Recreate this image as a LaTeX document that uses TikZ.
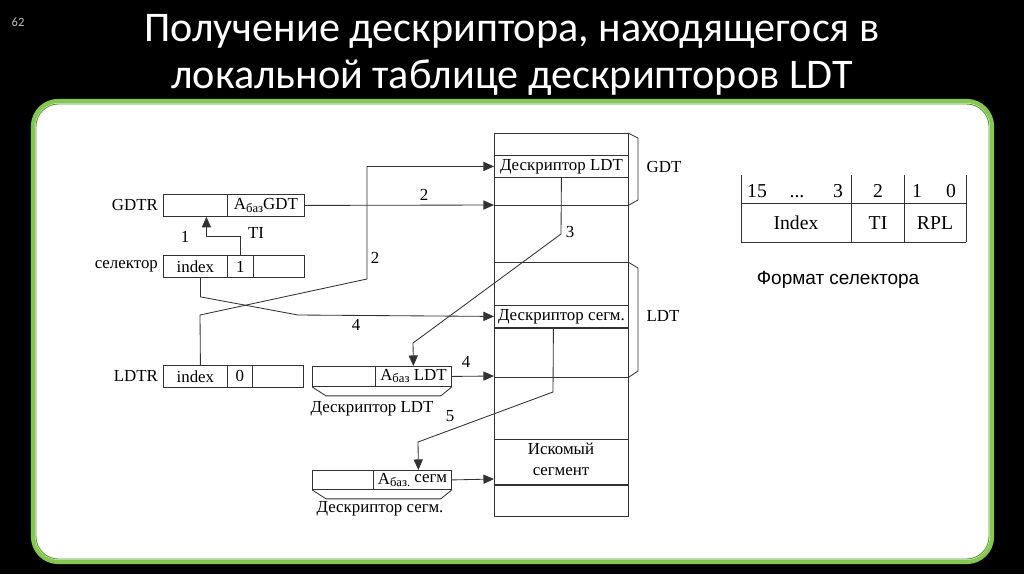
\documentclass[tikz,border=0pt]{standalone}
\usepackage{fontspec}
\setmainfont{Liberation Serif}
\newfontfamily\titlefont{Carlito}
\newfontfamily\capfont{Liberation Sans}
\usetikzlibrary{arrows.meta,calc}
\definecolor{panelgreen}{RGB}{132,200,82}
\definecolor{paneledge}{RGB}{84,150,44}
\definecolor{ink}{RGB}{50,50,50}
\newcommand{\Abase}[1]{A\raisebox{-1.5pt}{\fontsize{9}{9}\selectfont баз}#1}
\begin{document}
\begin{tikzpicture}[x=0.025cm, y=-0.025cm, line width=0.6pt,
  every node/.style={font=\fontsize{12}{14}\selectfont, text=black},
  cell/.style={draw=ink, inner sep=0pt, minimum height=22*0.025cm, anchor=north west},
  arr/.style={draw=ink, -{Triangle[length=7.5pt, width=6.5pt]}},
  lbl/.style={inner sep=1pt},
  fmtxt/.style={font=\fontsize{14}{16}\selectfont, anchor=base}]
  % slide
  \fill[black] (0,0) rectangle (1024,574);
  \useasboundingbox (0,0) rectangle (1024,574);
  \node[text=white!75!black, font=\titlefont\fontsize{9}{10}\selectfont] (pgno) at (18,22) {62};
  \node[text=white, font=\titlefont\fontsize{30}{34}\selectfont, align=center] (title) at (512,55)
    {Получение дескриптора, находящегося в\\локальной таблице дескрипторов LDT};
  \fill[white, rounded corners=18] (33,101) rectangle (992,562);
  \draw[panelgreen, line width=3pt, rounded corners=18] (33,101) rectangle (992,562);
  \draw[paneledge, line width=0.6pt, rounded corners=16] (36,104) rectangle (989,559);

  % memory column
  \draw[ink] (494,133) rectangle (628,516);
  \foreach \y in {205,262,377,439} {
      \draw[ink] (494,\y) -- (628,\y);
    }
  \node[cell, minimum width=134*0.025cm] (dLDT) at (494,155) {Дескриптор LDT};
  \node[cell, minimum width=134*0.025cm] (dSeg) at (494,305) {Дескриптор сегм.};
  \draw[ink, line width=1.2pt] (dSeg.south west) -- (dSeg.south east);
  \node[align=center, font=\fontsize{12}{15}\selectfont] (seg) at (561,459) {Искомый\\сегмент};
  \draw[ink, line width=1.2pt] (494,485) -- (628,485);
  \coordinate (gdtEnd) at (494,205);
  \coordinate (ldtEnd) at (494,376);
  \coordinate (segEnd) at (494,479);

  % table brackets
  \draw[ink] (628,133) -- (638,138) -- (638,200) -- (629,205);
  \draw[ink] (628,262) -- (638,268) -- (638,371) -- (629,377);
  \node (gdtLbl) at (664,167) {GDT};
  \node (ldtLbl) at (663,316) {LDT};

  % GDTR
  \node[cell, minimum width=64*0.025cm] (gdtrL) at (163,194) {};
  \node[cell, minimum width=77*0.025cm] (gdtrB) at (227,194) {\Abase{GDT}};
  \node[left] at (gdtrL.west) {GDTR};

  % selector
  \node[cell, minimum width=64*0.025cm] (selIdx) at (163,255) {index};
  \node[cell, minimum width=26*0.025cm] (selTI) at (227,255) {1};
  \node[cell, minimum width=51*0.025cm] (selRpl) at (253,255) {};
  \node[left] at (selIdx.west) {селектор};

  % LDTR
  \node[cell, minimum width=64*0.025cm] (ldtrIdx) at (163,365) {index};
  \node[cell, minimum width=25*0.025cm] (ldtrTI) at (227,365) {0};
  \node[cell, minimum width=51*0.025cm] (ldtrRpl) at (252,365) {};
  \node[left] at (ldtrIdx.west) {LDTR};

  % LDT descriptor
  \node[cell, minimum width=63*0.025cm, minimum height=20*0.025cm] (dlA) at (312,366) {};
  \node[cell, minimum width=76*0.025cm, minimum height=20*0.025cm] (dlB) at (375,366) {\Abase{ LDT}};
  \draw[ink] (dlA.south west) -- ++(14,9) -- ($(dlB.south east)+(-11,9)$) -- (dlB.south east);
  \node (dlLbl) at (372,409) {Дескриптор LDT};

  % segment descriptor
  \node[cell, minimum width=61*0.025cm, minimum height=19*0.025cm] (dsA) at (312,470) {};
  \node[cell, minimum width=78*0.025cm, minimum height=19*0.025cm] (dsB) at (373,470)
    {A\raisebox{-1.5pt}{\fontsize{9}{9}\selectfont баз.} \raisebox{1pt}{сегм}};
  \draw[ink] (dsA.south west) -- ++(14,9) -- ($(dsB.south east)+(-11,9)$) -- (dsB.south east);
  \node (dsLbl) at (380,509) {Дескриптор сегм.};

  % 1: TI bit selects the table
  \draw[arr] (selTI.north) -- ++(0,-19) -| ($(gdtrL.south)+(11,0)$);
  \node[lbl] at (185,237) {1};
  \node[lbl] at (256,233) {TI};

  % 2: GDT base and index of LDT descriptor
  \draw[arr] (gdtrB.east) -- (gdtEnd);
  \node[lbl] at (424,195) {2};
  \draw[arr] ($(ldtrIdx.north)+(5,0)$) -- (200,315) -- (367,279) |- (dLDT.west);
  \node[lbl] at (375,258) {2};

  % 3: LDT descriptor loaded
  \draw[arr] (dLDT.south) -- (561,234) -- (413,343) -- (dlB.north);
  \node[lbl] at (570,232) {3};

  % 4: LDT base and selector index
  \draw[arr] (dlB.east) -- (ldtEnd);
  \node[lbl] at (466,362) {4};
  \draw[arr] ($(selIdx.south)+(5,0)$) -- ++(0,19) -- (298,315) -- (dSeg.west);
  \node[lbl] at (356,325) {4};

  % 5: segment descriptor loaded
  \draw[arr] ($(dSeg.south)+(-8,0)$) -- (553,392) -- (418,442) -- ($(dsB.north)+(6,0)$);
  \node[lbl] at (450,416) {5};
  \draw[arr] (dsB.east) -- (segEnd);

  % selector format
  \foreach \x in {741,851,904,966} {
      \draw[ink] (\x,175) -- (\x,242);
    }
  \draw[ink] (741,203) -- (966,203);
  \draw[ink] (741,242) -- (966,242);
  \foreach \x/\t in {757/15, 838/3, 878/2, 917/1, 951/0} {
      \node[fmtxt] at (\x,197) {\t};
    }
  \node[fmtxt] (fDots) at (797,197) {...};
  \node[fmtxt] (fIdx) at (796,229) {Index};
  \node[fmtxt] (fTI) at (878,229) {TI};
  \node[fmtxt] (fRPL) at (935,229) {RPL};
  \node[font=\capfont\fontsize{13.5}{15}\selectfont] (fmt) at (838,280) {Формат селектора};
\end{tikzpicture}
\end{document}
